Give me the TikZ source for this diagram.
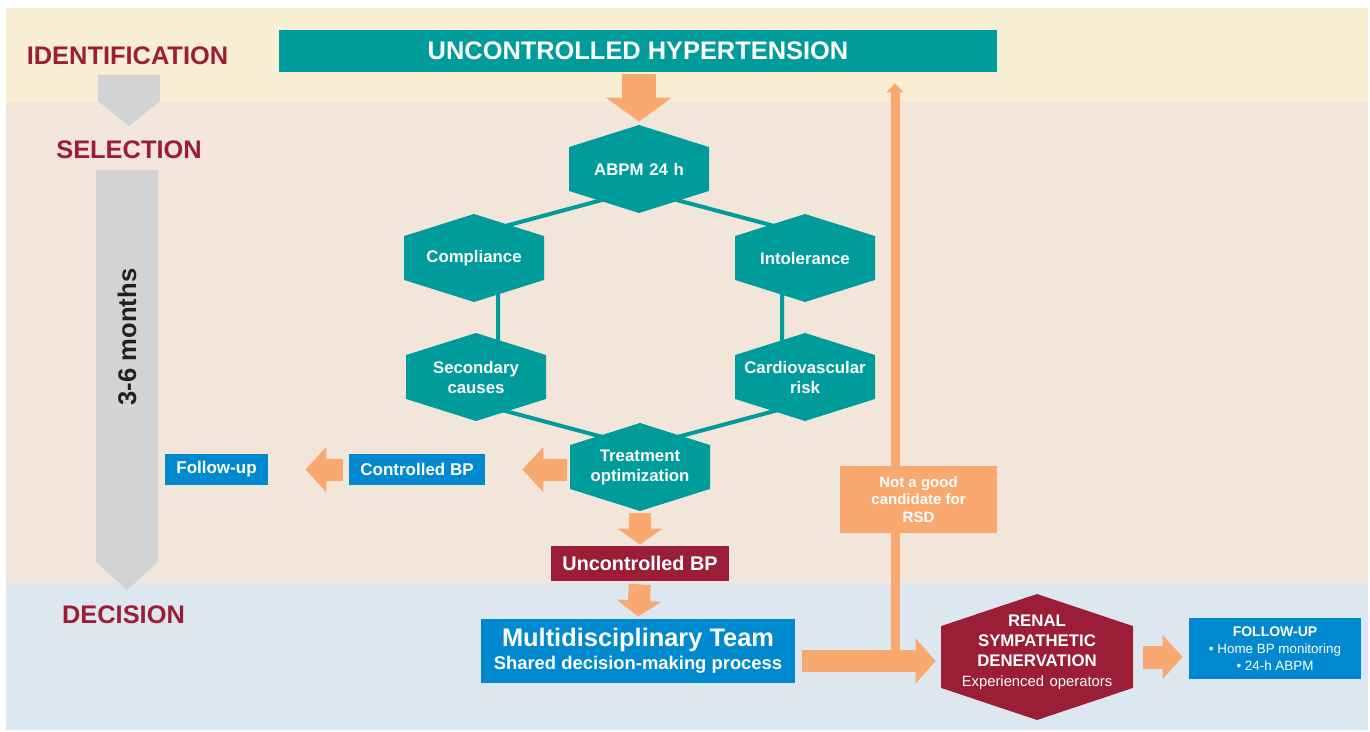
\documentclass[tikz,border=0pt]{standalone}
\usepackage{fontspec}
\setmainfont{Liberation Sans}
\usetikzlibrary{arrows.meta,shapes.symbols,backgrounds}

\definecolor{idband}{RGB}{248,238,211}
\definecolor{selband}{RGB}{242,230,219}
\definecolor{decband}{RGB}{220,231,239}
\definecolor{hteal}{RGB}{0,155,155}
\definecolor{hred}{RGB}{155,29,54}
\definecolor{hblue}{RGB}{0,137,206}
\definecolor{horange}{RGB}{249,168,111}
\definecolor{hgray}{RGB}{209,211,212}
\definecolor{hdark}{RGB}{35,31,32}

\begin{document}
\begin{tikzpicture}[
    x=0.5pt, y=0.5pt,
    stage/.style={text=hred, font=\bfseries\fontsize{12.7}{15}\selectfont},
    hexa/.style={signal, signal to=north and south, signal pointer angle=145, fill=hteal, text=white, align=center, inner sep=0pt, text width=70pt, minimum width=70pt, minimum height=44pt, font=\bfseries\fontsize{8.4}{10}\selectfont},
    box/.style={fill=#1, text=white, align=center, inner sep=0pt, font=\bfseries\fontsize{8.5}{10}\selectfont},
    ring/.style={draw=hteal, line width=2pt},
    flow/.style={draw=horange, line width=11pt, -{Triangle[length=10.5pt, width=22pt]}},
    thinflow/.style={draw=horange, line width=4.5pt, -{Triangle[length=4.5pt, width=8.5pt]}},
    timeline/.style={fill=hgray}
]
\useasboundingbox (0,0) rectangle (1370,-732);

% bands
\begin{scope}[on background layer]
\fill[idband] (6,-8) rectangle (1368,-102);
\fill[selband] (6,-102) rectangle (1368,-583);
\fill[decband] (6,-583) rectangle (1368,-730);
\end{scope}

% time line on the left
\fill[timeline] (98,-75) -- (160,-75) -- (160,-101) -- (129,-126) -- (98,-101) -- cycle;
\fill[timeline] (96,-170) -- (158,-170) -- (158,-562) -- (127,-590) -- (96,-562) -- cycle;
\node[rotate=90, text=hdark, font=\bfseries\fontsize{12.8}{15}\selectfont] (months) at (127,-337) {3-6 months};

\node[stage] (ident) at (127.5,-56) {IDENTIFICATION};
\node[stage] (select) at (129,-150) {SELECTION};
\node[stage] (decide) at (123.5,-614.5) {DECISION};

% selection
\node[box=hteal, minimum width=359pt, minimum height=21pt, font=\bfseries\fontsize{12.7}{15}\selectfont] (hyper) at (638,-51) {UNCONTROLLED HYPERTENSION};
\node[hexa] (abpm) at (639,-169) {ABPM 24 h};
\node[hexa] (compl) at (474,-258) {Compliance};
\node[hexa] (intol) at (805,-258) {Intolerance};
\node[hexa] (second) at (476,-377) {Secondary\\causes};
\node[hexa] (cardio) at (805,-377) {Cardiovascular\\risk};
\node[hexa] (treat) at (640,-467) {Treatment\\optimization};

\begin{scope}[on background layer]
\draw[ring] ([yshift=-10.5pt]abpm.center) -- ([xshift=-11.5pt,yshift=15pt]intol.center) -- ([xshift=-11.5pt,yshift=-16pt]cardio.center) -- ([yshift=10pt]treat.center) -- ([xshift=11pt,yshift=-16pt]second.center) -- ([xshift=12pt,yshift=15pt]compl.center) -- cycle;
\end{scope}

\node[box=hblue, minimum width=68pt, minimum height=15.5pt] (ctrl) at (417,-469.5) {Controlled BP};
\node[box=hblue, minimum width=51.5pt, minimum height=15.5pt] (follow) at (216.5,-469.5) {Follow-up};
\node[box=hred, minimum width=89pt, minimum height=17.5pt, font=\bfseries\fontsize{9.9}{12}\selectfont] (ubp) at (640,-563.5) {Uncontrolled BP};

% decision
\node[box=hblue, minimum width=157pt, minimum height=32pt, font=\bfseries\fontsize{12.7}{11.5}\selectfont] (team) at (638,-651) {Multidisciplinary Team\\{\fontsize{9.2}{11}\selectfont Shared decision-making process}};
\node[hexa, fill=hred, text width=96pt, minimum width=96pt, minimum height=63pt, signal pointer angle=143, inner ysep=-6pt] (rsd) at (1037,-657) {RENAL\\SYMPATHETIC\\DENERVATION\\{\mdseries\fontsize{7.4}{10}\selectfont Experienced operators\rule[-6pt]{0pt}{6pt}}};
\node[box=hblue, minimum width=86pt, minimum height=30.5pt, font=\fontsize{6.7}{8.5}\selectfont] (fu) at (1275,-648.5) {{\bfseries\fontsize{7}{8.5}\selectfont FOLLOW-UP}\\• Home BP monitoring\\• 24-h ABPM};

\draw[flow, line width=17pt, -{Triangle[length=12pt, width=32.5pt]}, shorten <=1pt, shorten >=1.5pt] (hyper.south -| abpm.north) -- (abpm.north);
\draw[flow, shorten <=1.5pt, shorten >=18.5pt] (ctrl.east -| treat.west) -- (ctrl.east);
\draw[flow, shorten <=3pt, shorten >=18.5pt] (ctrl.west) -- (follow.east);
\draw[flow, -{Triangle[length=8pt, width=22pt]}, shorten <=1pt, shorten >=0.5pt] (treat.south) -- (treat.south |- ubp.north);
\draw[flow, -{Triangle[length=8pt, width=22pt]}, shorten <=1.5pt, shorten >=1pt] (ubp.south) -- (team.north);

\coordinate (split) at (895,-661);
\draw[flow, -{Triangle[length=10pt, width=22pt]}, shorten <=3.5pt, shorten >=2.5pt] (team.east |- split) -- (split -| rsd.west);
\draw[thinflow, shorten >=5.5pt] (split) -- (split |- hyper.south);
\node[box=horange, minimum width=78.5pt, minimum height=33.5pt, font=\bfseries\fontsize{7.5}{8.75}\selectfont] (notgood) at (918.5,-499.5) {Not a good\\candidate for\\RSD};
\draw[flow, line width=11.5pt, -{Triangle[length=10pt, width=21.5pt]}, shorten <=5pt, shorten >=3pt] (rsd.east) -- (rsd.east -| fu.west);
\end{tikzpicture}
\end{document}
